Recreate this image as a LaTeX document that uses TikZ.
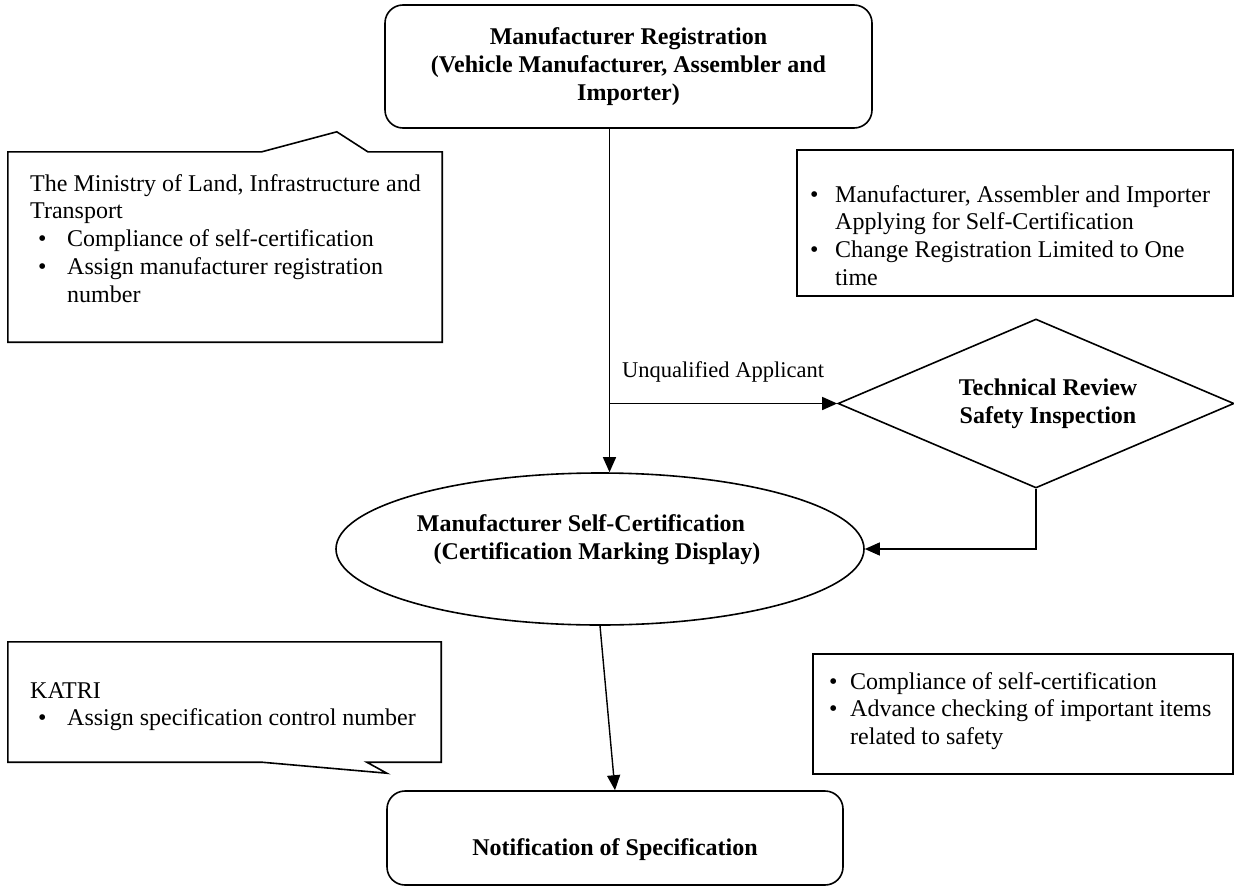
\documentclass[tikz,border=0pt]{standalone}
\usepackage{fontspec}
\setmainfont{Liberation Serif}
\usetikzlibrary{shapes.geometric,arrows.meta,calc}

\newcommand{\bodyfont}{\fontsize{24}{27.8}\selectfont}
\newcommand{\labelfont}{\fontsize{22.5}{26}\selectfont}

\tikzset{
  shapeline/.style={draw, line width=1.6pt},
  flowbox/.style={shapeline, rectangle, rounded corners=18pt, inner sep=0pt, align=center, font=\bodyfont\bfseries},
  notearea/.style={rectangle, inner sep=0pt},
  notetext/.style={anchor=base west, inner sep=0pt, font=\bodyfont},
  flowarrow/.style={line width=1.4pt, -{Triangle[length=15pt,width=13pt]}},
}

\begin{document}
\begin{tikzpicture}[x=1pt,y=1pt,yscale=-1,xscale=1]
\fill[white] (0,0) rectangle (1234,886);
\useasboundingbox (0,0) rectangle (1234,886);

%Registration box
\node[flowbox, minimum width=487pt, minimum height=123pt] (reg) at (628.5,66.5) {Manufacturer Registration\\(Vehicle Manufacturer, Assembler and\\Importer)};

%Callout: Ministry
\node[notearea, minimum width=434pt, minimum height=190pt] (mlit) at (225,247) {};
\draw[shapeline] (mlit.south west) -- (mlit.north west) -- ++(254,0) -- ++(75,-20) -- ++(31,20) -- (mlit.north east) -- (mlit.south east) -- cycle;
\node[notetext] (mlittext) at (30,191) {\begin{tabular}[t]{@{\hspace{8pt}}p{29pt}@{}l@{}}
\multicolumn{2}{@{}l@{}}{The Ministry of Land, Infrastructure and}\\
\multicolumn{2}{@{}l@{}}{Transport}\\
\textbullet & Compliance of self-certification\\
\textbullet & Assign manufacturer registration\\
 & number
\end{tabular}};

%Box: applicants
\node[notearea, shapeline, minimum width=436pt, minimum height=146pt] (req) at (1015,223) {};
\node[notetext] (reqtext) at (810,202) {\begin{tabular}[t]{@{}p{25pt}@{}l@{}}
\textbullet & Manufacturer, Assembler and Importer\\
 & Applying for Self-Certification\\
\textbullet & Change Registration Limited to One\\
 & time
\end{tabular}};

%Diamond: review
\node[shapeline, diamond, aspect=2.34, minimum width=396pt, minimum height=169pt, inner sep=0pt] (rev) at (1036,403.5) {};
\node[align=center, inner sep=0pt, font=\bodyfont\bfseries] (revtext) at ([xshift=12pt]rev.center) {Technical Review\\Safety Inspection};

% Text Node
\node[anchor=base west, inner sep=0pt, font=\labelfont] (unq) at (622,377) {Unqualified Applicant};

%Ellipse: self-certification
\node[shapeline, ellipse, minimum width=528pt, minimum height=152pt, inner sep=0pt] (cert) at (600,549) {};
\node[align=center, inner sep=0pt, font=\bodyfont\bfseries] (certtext) at ([xshift=-11pt,yshift=-9pt]cert.center) {Manufacturer Self-Certification\mbox{\hspace{16pt}}\\\mbox{\hspace{16pt}}(Certification Marking Display)};

%Callout: KATRI
\node[notearea, minimum width=433pt, minimum height=120pt] (katri) at (224.5,702) {};
\draw[shapeline] (katri.north west) -- (katri.south west) -- ++(254,0) -- ++(125,11) -- ++(-20,-11) -- (katri.south east) -- (katri.north east) -- cycle;
\node[notetext] (katritext) at (30,698) {\begin{tabular}[t]{@{\hspace{8pt}}p{29pt}@{}l@{}}
\multicolumn{2}{@{}l@{}}{KATRI}\\
\textbullet & Assign specification control number
\end{tabular}};

%Box: safety checks
\node[notearea, shapeline, minimum width=420pt, minimum height=120pt] (chk) at (1023,714) {};
\node[notetext] (chktext) at (829,689) {\begin{tabular}[t]{@{}p{21pt}@{}l@{}}
\textbullet & Compliance of self-certification\\
\textbullet & Advance checking of important items\\
 & related to safety
\end{tabular}};

%Notification box
\node[flowbox, minimum width=456pt, minimum height=94pt, text height=40pt, text depth=6pt] (notif) at (615,838) {Notification of Specification};

%Connectors
\coordinate (regout) at ([xshift=-19pt]reg.south);
\draw[flowarrow] (regout) -- (regout |- cert.north);
\draw[flowarrow] (regout |- rev.west) -- (rev.west);
\draw[flowarrow] (rev.south) -- (rev.south |- cert.east) -- (cert.east);
\draw[flowarrow] (cert.south) -- (notif.north);

\end{tikzpicture}
\end{document}
